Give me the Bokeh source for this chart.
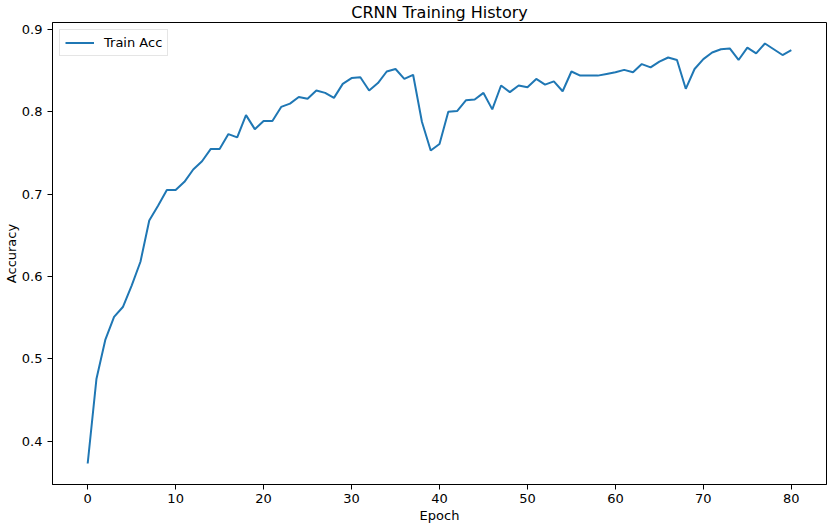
from bokeh.plotting import figure
from bokeh.models import Range1d, FixedTicker, Legend, LegendItem
from bokeh.embed import file_html
from bokeh.resources import INLINE

# ---- data ----
train_acc = [
    0.373, 0.476, 0.523, 0.551, 0.563, 0.589, 0.618, 0.668, 0.686, 0.705,
    0.705, 0.715, 0.730, 0.740, 0.755, 0.755, 0.773, 0.769, 0.796, 0.779,
    0.789, 0.789, 0.806, 0.810, 0.818, 0.816, 0.826, 0.823, 0.817, 0.834,
    0.841, 0.842, 0.826, 0.835, 0.849, 0.852, 0.840, 0.845, 0.788, 0.753,
    0.761, 0.800, 0.801, 0.814, 0.815, 0.823, 0.803, 0.832, 0.824, 0.832,
    0.830, 0.840, 0.833, 0.837, 0.825, 0.849, 0.844, 0.844, 0.844, 0.846,
    0.848, 0.851, 0.848, 0.858, 0.854, 0.861, 0.866, 0.863, 0.828, 0.852,
    0.864, 0.872, 0.876, 0.877, 0.863, 0.878, 0.871, 0.883, 0.876, 0.869,
    0.875,
]
epochs = list(range(len(train_acc)))
x_ticks = [0, 10, 20, 30, 40, 50, 60, 70, 80]
y_ticks = [0.4, 0.5, 0.6, 0.7, 0.8, 0.9]
title_text = "CRNN Training History"
x_label = "Epoch"
y_label = "Accuracy"
series_label = "Train Acc"

FONT = "DejaVu Sans"
TICK_SIZE = "13px"

# matplotlib-style 5% margins
xpad = 0.05 * (epochs[-1] - epochs[0])
ymin, ymax = min(train_acc), max(train_acc)
ypad = 0.05 * (ymax - ymin)
x_start, x_end = epochs[0] - xpad, epochs[-1] + xpad

p = figure(
    width=828, height=527,
    output_backend="svg", toolbar_location=None,
    x_range=Range1d(x_start, x_end),
    y_range=Range1d(ymin - ypad, ymax + ypad),
    min_border=0,
    min_border_left=51, min_border_right=2,
    min_border_top=22, min_border_bottom=43,
    title=title_text,
)
p.background_fill_color = "white"
p.border_fill_color = "white"
p.outline_line_color = "black"
p.outline_line_width = 1
p.outline_line_alpha = 1

p.title.align = "center"
p.title.text_font = FONT
p.title.text_font_size = "16px"
p.title.text_font_style = "normal"
p.title.text_color = "black"
p.title.standoff = 1
p.title.offset = 0

p.xgrid.visible = False
p.ygrid.visible = False

for ax in (p.xaxis[0], p.yaxis[0]):
    ax.axis_line_color = "black"
    ax.axis_line_width = 1
    ax.major_tick_line_color = "black"
    ax.major_tick_out = 5
    ax.major_tick_in = 0
    ax.minor_tick_line_color = None
    ax.major_label_text_font = FONT
    ax.major_label_text_font_size = TICK_SIZE
    ax.major_label_text_color = "black"
    ax.axis_label_text_font = FONT
    ax.axis_label_text_font_size = TICK_SIZE
    ax.axis_label_text_font_style = "normal"
    ax.axis_label_text_color = "black"

p.xaxis[0].major_label_standoff = 4
p.xaxis[0].axis_label_standoff = 2
p.yaxis[0].major_label_standoff = 5
p.yaxis[0].axis_label_standoff = 0
p.xaxis[0].ticker = FixedTicker(ticks=x_ticks)
p.yaxis[0].ticker = FixedTicker(ticks=y_ticks)
p.xaxis[0].axis_label = x_label
p.yaxis[0].axis_label = y_label

line = p.line(epochs, train_acc, line_color="#1f77b4", line_width=2)

legend = Legend(
    items=[LegendItem(label=series_label, renderers=[line])],
    location="top_left",
    margin=7, padding=5, spacing=0,
    glyph_width=29, glyph_height=15, label_standoff=10,
    label_text_font=FONT, label_text_font_size=TICK_SIZE,
    label_text_color="black",
    border_line_color="#cccccc", border_line_width=1,
    background_fill_color="white", background_fill_alpha=0.8,
)
p.add_layout(legend, "center")

open("out.html", "w").write(file_html(p, INLINE))
